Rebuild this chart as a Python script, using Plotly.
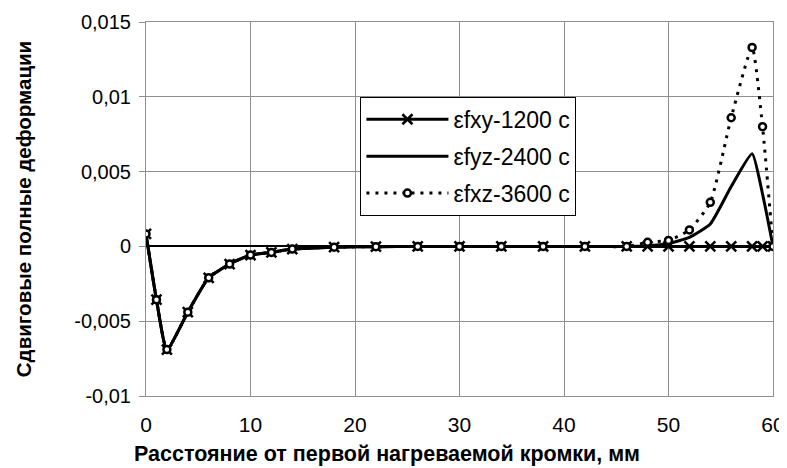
import plotly.graph_objects as go

# Distance from first heated edge, mm
x_mm = [0, 1, 2, 4, 6, 8, 10, 12, 14, 18, 22, 26, 30, 34, 38, 42, 46, 48, 50, 52, 54, 56, 58, 59, 60]

# Shear total strains
s_1200 = [0.00083, -0.00356, -0.0069, -0.0044, -0.0021, -0.00118, -0.00058, -0.0004, -0.00018,
          -0.00005, -0.00002, 0, 0, 0, 0, 0, 0, 0, 0, 0, 0, 0, 0, 0, 0]
s_2400 = [0.00083, -0.00356, -0.0069, -0.0044, -0.0021, -0.00118, -0.00058, -0.0004, -0.00018,
          -0.00005, -0.00002, 0, 0, 0, 0, 0, 0, 0.00005, 0.0002, 0.0006, 0.0015, 0.004, 0.0062, 0.0035, 0]
s_3600 = [0.00083, -0.00356, -0.0069, -0.0044, -0.0021, -0.00118, -0.00058, -0.0004, -0.00018,
          -0.00005, -0.00002, 0, 0, 0, 0, 0, 0, 0.00027, 0.0004, 0.0011, 0.00295, 0.0086, 0.0133, 0.008, 0]

names = ["εfxy-1200 c", "εfyz-2400 c", "εfxz-3600 c"]

y_ticks = [-0.01, -0.005, 0, 0.005, 0.01, 0.015]
y_ticktext = ["-0,01", "-0,005", "0", "0,005", "0,01", "0,015"]
x_ticks = [0, 10, 20, 30, 40, 50, 60]

x_title = "Расстояние от первой нагреваемой кромки, мм"
y_title = "Сдвиговые полные деформации"

FONT = "Arial, Liberation Sans, sans-serif"
GRID = "#8f8f8f"

fig = go.Figure()
fig.add_trace(go.Scatter(
    x=x_mm, y=s_1200, name=names[0], mode="lines+markers", legendgroup="a",
    line=dict(color="black", width=3, shape="spline", smoothing=0.5),
    marker=dict(symbol="x-thin-open", size=10, color="black", line=dict(color="black", width=2.5)),
))
fig.add_trace(go.Scatter(
    x=x_mm, y=s_2400, name=names[1], mode="lines", legendgroup="b",
    line=dict(color="black", width=3, shape="spline", smoothing=0.5),
))
fig.add_trace(go.Scatter(
    x=x_mm, y=s_3600, name=names[2], mode="lines+markers", legendgroup="c",
    line=dict(color="black", width=3, dash="3px,6px", shape="spline", smoothing=0.5),
    marker=dict(symbol="circle", size=7, color="white", line=dict(color="black", width=2.5)),
))

# The page body has an 8px default margin; the figure is sized to fit the window.
fig.update_layout(
    width=779, height=460,
    margin=dict(l=138, r=14, t=14, b=72),
    paper_bgcolor="white", plot_bgcolor="white",
    font=dict(family=FONT, size=19, color="black"),
    showlegend=True,
    legend=dict(
        x=0.342, y=0.80, xanchor="left", yanchor="top",
        bgcolor="white", bordercolor="black", borderwidth=1,
        font=dict(family=FONT, size=23, color="black"),
        tracegroupgap=4, itemwidth=82,
    ),
    xaxis=dict(
        range=[0, 60], tickvals=x_ticks, ticktext=[str(v) for v in x_ticks],
        showgrid=True, gridcolor=GRID, gridwidth=1,
        showline=True, linecolor=GRID, linewidth=1, mirror=True,
        ticks="", ticklabelstandoff=10, zeroline=False, automargin=False,
        tickfont=dict(family=FONT, size=21),
    ),
    yaxis=dict(
        range=[-0.01, 0.015], tickvals=y_ticks, ticktext=y_ticktext,
        showgrid=True, gridcolor=GRID, gridwidth=1,
        showline=True, linecolor=GRID, linewidth=1, mirror=True,
        ticks="outside", ticklen=6, tickcolor=GRID, ticklabelstandoff=4,
        zeroline=True, zerolinecolor="black", zerolinewidth=2, automargin=False,
        tickfont=dict(family=FONT, size=20),
        title=dict(text="<b>" + y_title + "</b>",
                   font=dict(family=FONT, size=20.5), standoff=37),
    ),
    annotations=[
        dict(text="<b>" + x_title + "</b>", xref="paper", yref="paper",
             x=0.385, y=-0.155, xanchor="center", yanchor="middle",
             showarrow=False, font=dict(family=FONT, size=21.5)),
    ],
)

fig.write_html("out.html")
